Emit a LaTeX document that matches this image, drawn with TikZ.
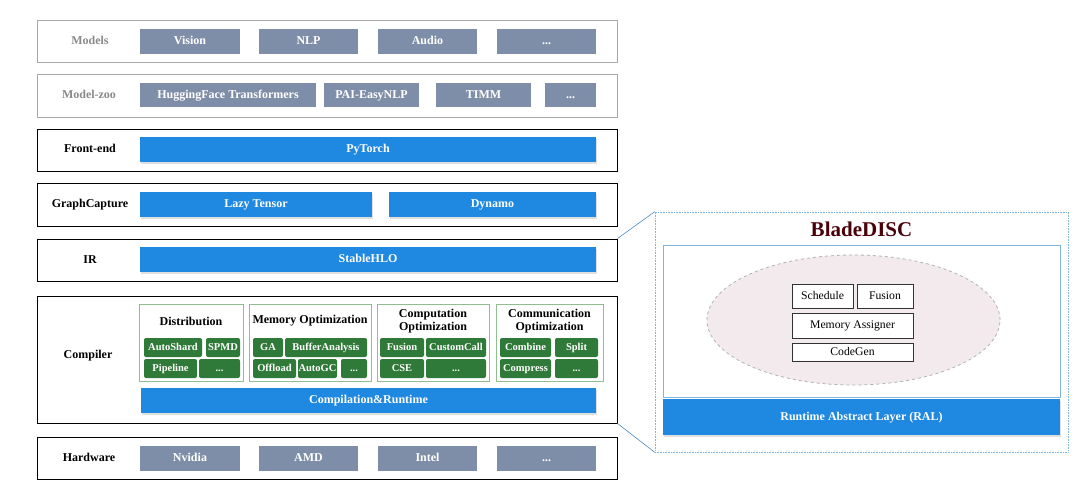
\documentclass[tikz,border=0pt]{standalone}
\usepackage{fontspec}
\setmainfont{Liberation Serif}
\usepackage{xcolor}
\usepackage{tikz}
\usetikzlibrary{shadows,shapes.geometric}
\definecolor{bdSlate}{HTML}{7F8EA8}
\definecolor{bdBlue}{HTML}{1F88E0}
\definecolor{bdGreen}{HTML}{2F7A38}
\definecolor{bdGrpLine}{HTML}{8FBF8F}
\definecolor{bdFaint}{HTML}{8A8A8A}
\definecolor{bdFaintLine}{HTML}{A8A8A8}
\definecolor{bdZoom}{HTML}{4A8AC4}
\definecolor{bdPanel}{HTML}{7DB4E0}
\definecolor{bdTitle}{HTML}{4A0008}
\definecolor{bdPink}{HTML}{F3EAEE}

\begin{document}
\begin{tikzpicture}[
    x=1pt,y=-1pt,
    row/.style={draw=black,line width=0.8pt,minimum width=580pt,minimum height=42pt,inner sep=0pt},
    faintrow/.style={row,draw=bdFaintLine},
    lbl/.style={font=\fontsize{12}{14}\selectfont\bfseries,text height=0.7em,text depth=0.05em},
    faintlbl/.style={lbl,text=bdFaint},
    slate/.style={fill=bdSlate,minimum height=25pt,inner sep=0pt,text=white,
                  font=\fontsize{12}{14}\selectfont\bfseries,text height=0.7em,text depth=0.05em},
    bar/.style={fill=bdBlue,minimum height=25pt,inner sep=0pt,text=white,
                font=\fontsize{12}{14}\selectfont\bfseries,text height=0.7em,text depth=0.05em,
                drop shadow={shadow xshift=1pt,shadow yshift=-1.5pt,opacity=0.25}},
    grp/.style={draw=bdGrpLine,line width=0.6pt,minimum height=77pt,inner sep=0pt},
    grptitle/.style={align=center,font=\fontsize{12}{12.5}\selectfont\bfseries},
    opt/.style={fill=bdGreen,rounded corners=2pt,minimum height=19pt,inner sep=0pt,text=white,
                font=\fontsize{10.5}{12}\selectfont\bfseries,text height=0.7em,text depth=0.05em},
    pass/.style={draw=black!80,line width=0.6pt,fill=white,inner sep=0pt,
                 font=\fontsize{11.7}{13}\selectfont,text height=0.7em,text depth=0.05em},
    zoomline/.style={draw=bdZoom,line width=0.6pt}
  ]
    \useasboundingbox (0,0) rectangle (1080,496);

    % left stack
    \node[faintrow] (models)   at (327,41)    {};
    \node[faintrow,minimum height=43pt] (zoo) at (327,95.5) {};
    \node[row] (frontend) at (327,150)   {};
    \node[row,minimum height=43pt] (capture) at (327,204.5) {};
    \node[row] (ir)       at (327,260)   {};
    \node[row,minimum height=127pt] (compiler) at (327,359.5) {};
    \node[row] (hardware) at (327,458)   {};

    \node[faintlbl] at (90,41)   {Models};
    \node[faintlbl] at (89,95.5) {Model-zoo};
    \node[lbl] at (90,149)   {Front-end};
    \node[lbl] at (90,204)   {GraphCapture};
    \node[lbl] at (90,260)   {IR};
    \node[lbl] at (88,355)   {Compiler};
    \node[lbl] at (89,458)   {Hardware};

    \node[slate,minimum width=100pt] (vision) at (190,41)   {Vision};
    \node[slate,minimum width=99pt]  (nlp)    at (308.5,41) {NLP};
    \node[slate,minimum width=99pt]  (audio)  at (427.5,41) {Audio};
    \node[slate,minimum width=99pt]  (moremodels) at (546.5,41) {...};

    \node[slate,minimum width=176pt,minimum height=24pt] (hf)   at (228,95)   {HuggingFace Transformers};
    \node[slate,minimum width=95pt,minimum height=24pt]  (pai)  at (371.5,95) {PAI-EasyNLP};
    \node[slate,minimum width=95pt,minimum height=24pt]  (timm) at (483.5,95) {TIMM};
    \node[slate,minimum width=51pt,minimum height=24pt]  (morezoo) at (570.5,95) {...};

    \node[bar,minimum width=456pt] (pytorch) at (368,149.5) {PyTorch};
    \node[bar,minimum width=232pt] (lazy)    at (256,204.5) {Lazy Tensor};
    \node[bar,minimum width=207pt] (dynamo)  at (492.5,204.5) {Dynamo};
    \node[bar,minimum width=456pt] (stablehlo) at (368,259.5) {StableHLO};

    % compiler groups
    \node[grp,minimum width=104pt] (dist) at (191,342.5)   {};
    \node[grp,minimum width=122pt] (mem)  at (310,342.5)   {};
    \node[grp,minimum width=112pt] (comp) at (433,342.5)   {};
    \node[grp,minimum width=107pt] (comm) at (549.5,342.5) {};
    \node[grptitle] at (191,321)   {Distribution};
    \node[grptitle] at (310,321)   {Memory Optimization};
    \node[grptitle] at (433,321)   {Computation\\Optimization};
    \node[grptitle] at (549.5,321) {Communication\\Optimization};

    \node[opt,minimum width=58pt] (autoshard) at (173,347.5)   {AutoShard};
    \node[opt,minimum width=34pt] (spmd)      at (223,347.5)   {SPMD};
    \node[opt,minimum width=53pt] (pipeline)  at (170.5,368.5) {Pipeline};
    \node[opt,minimum width=41pt] (moredist)  at (219.5,368.5) {...};

    \node[opt,minimum width=30pt] (ga)      at (268,347.5)   {GA};
    \node[opt,minimum width=82pt] (buffer)  at (326,347.5)   {BufferAnalysis};
    \node[opt,minimum width=43pt] (offload) at (274.5,368.5) {Offload};
    \node[opt,minimum width=39pt] (autogc)  at (317.5,368.5) {AutoGC};
    \node[opt,minimum width=26pt] (moremem) at (354,368.5)   {...};

    \node[opt,minimum width=44pt] (fusionopt) at (402,347.5) {Fusion};
    \node[opt,minimum width=60pt] (custom)    at (456,347.5) {CustomCall};
    \node[opt,minimum width=44pt] (cse)       at (402,368.5) {CSE};
    \node[opt,minimum width=60pt] (morecomp)  at (456,368.5) {...};

    \node[opt,minimum width=51pt] (combine)  at (525.5,347.5) {Combine};
    \node[opt,minimum width=43pt] (split)    at (576.5,347.5) {Split};
    \node[opt,minimum width=51pt] (compress) at (525.5,368.5) {Compress};
    \node[opt,minimum width=43pt] (morecomm) at (576.5,368.5) {...};

    \node[bar,minimum width=455pt] (runtime) at (368.5,400.5) {Compilation\&Runtime};

    \node[slate,minimum width=100pt] (nvidia) at (190,458.5)   {Nvidia};
    \node[slate,minimum width=99pt]  (amd)    at (308.5,458.5) {AMD};
    \node[slate,minimum width=99pt]  (intel)  at (427.5,458.5) {Intel};
    \node[slate,minimum width=99pt]  (morehw) at (546.5,458.5) {...};

    % BladeDISC panel
    \node[draw=bdPanel,densely dotted,line width=0.6pt,minimum width=413pt,minimum height=240pt,
          inner sep=0pt] (panel) at (861.5,332) {};
    \node[text=bdTitle,font=\fontsize{21}{23}\selectfont\bfseries] (bladedisc) at (861.5,229) {BladeDISC};
    \node[draw=bdPanel,line width=0.8pt,fill=white,minimum width=397pt,minimum height=152pt,
          inner sep=0pt,drop shadow={shadow xshift=1pt,shadow yshift=-1pt,opacity=0.15}] (inner) at (861.5,321) {};
    \node[ellipse,draw=black!30,dashed,line width=0.8pt,fill=bdPink,minimum width=293pt,
          minimum height=130pt,inner sep=0pt] (core) at (853.5,320) {};
    \node[pass,minimum width=61pt,minimum height=24pt]  (schedule) at (822.5,296) {Schedule};
    \node[pass,minimum width=56pt,minimum height=24pt]  (fusion)   at (885,296)   {Fusion};
    \node[pass,minimum width=121pt,minimum height=25pt] (assigner) at (852.5,325.5) {Memory Assigner};
    \node[pass,minimum width=121pt,minimum height=18pt] (codegen)  at (852.5,352) {CodeGen};
    \node[bar,minimum width=397pt,minimum height=36pt] (ral) at (861.5,417) {Runtime Abstract Layer (RAL)};

    \draw[zoomline] (ir.north east)       -- (panel.north west);
    \draw[zoomline] (compiler.south east) -- (panel.south west);
  \end{tikzpicture}
\end{document}
